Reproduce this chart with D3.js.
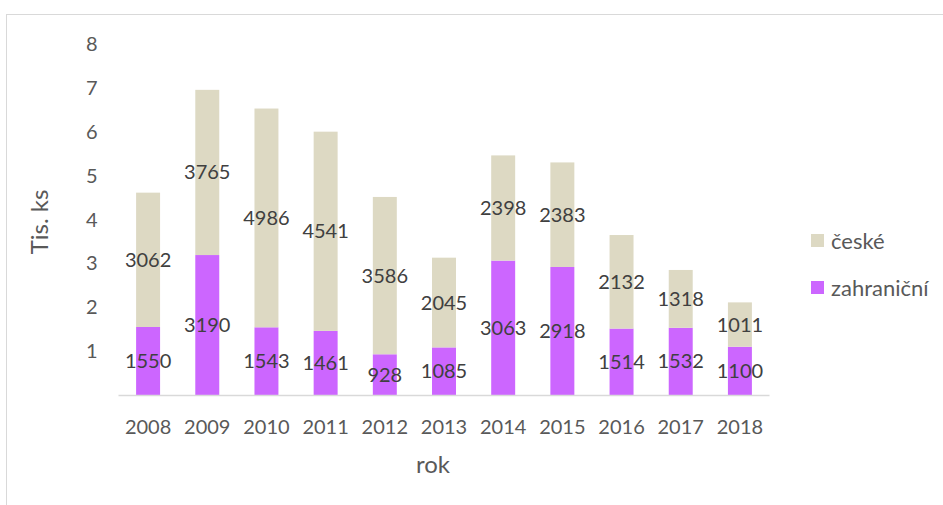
<!DOCTYPE html>
<html>
<head>
<meta charset="utf-8">
<script src="https://cdn.jsdelivr.net/npm/d3@7"></script>
<style>
body { margin: 0; background: #fff; }
svg { font-family: Lato, "Open Sans", sans-serif; }
</style>
</head>
<body>
<svg id="chart" width="943" height="505"></svg>
<script>
var years = ["2008", "2009", "2010", "2011", "2012", "2013", "2014", "2015", "2016", "2017", "2018"];
var zahranicni = [1550, 3190, 1543, 1461, 928, 1085, 3063, 2918, 1514, 1532, 1100];
var ceske = [3062, 3765, 4986, 4541, 3586, 2045, 2398, 2383, 2132, 1318, 1011];
var yTicks = [1, 2, 3, 4, 5, 6, 7, 8];

var svg = d3.select("#chart"),
    margin = { top: 44, left: 118.5 },
    width = 651,
    height = 351,
    g = svg.append("g").attr("transform", "translate(" + margin.left + "," + margin.top + ")");

// outer frame
svg.append("rect")
    .attr("x", 6.5).attr("y", 14.5)
    .attr("width", 960).attr("height", 520)
    .attr("fill", "none")
    .attr("stroke", "#d9d9d9");

var data = years.map(function (y, i) {
    return { rok: y, zahranicni: zahranicni[i] / 1000, ceske: ceske[i] / 1000 };
});

var x = d3.scaleBand().domain(years).range([0, width]).paddingInner(0.595).paddingOuter(0.2975);
var y = d3.scaleLinear().domain([0, 8]).range([height, 0]);

var stack = d3.stack().keys(["zahranicni", "ceske"])(data);
var colors = { zahranicni: "#cc66ff", ceske: "#ddd9c3" };
var raw = { zahranicni: zahranicni, ceske: ceske };

stack.forEach(function (layer) {
    g.selectAll(".bar-" + layer.key)
        .data(layer)
        .enter().append("rect")
        .attr("x", function (d) { return x(d.data.rok); })
        .attr("width", x.bandwidth())
        .attr("y", function (d) { return y(d[1]); })
        .attr("height", function (d) { return y(d[0]) - y(d[1]); })
        .attr("fill", colors[layer.key]);
});

// x axis
g.append("line")
    .attr("x1", 0).attr("x2", width)
    .attr("y1", height + 0.5).attr("y2", height + 0.5)
    .attr("stroke", "#d9d9d9").attr("stroke-width", 1.5);

g.selectAll(".xlab")
    .data(years)
    .enter().append("text")
    .attr("x", function (d) { return x(d) + x.bandwidth() / 2; })
    .attr("y", height + 39)
    .attr("text-anchor", "middle")
    .style("font-size", "20px")
    .attr("fill", "#595959")
    .text(function (d) { return d; });

// y tick labels
g.selectAll(".ylab")
    .data(yTicks)
    .enter().append("text")
    .attr("x", -21)
    .attr("y", function (d) { return y(d); })
    .attr("dy", "0.35em")
    .attr("text-anchor", "end")
    .style("font-size", "20px")
    .attr("fill", "#595959")
    .text(function (d) { return d; });

// data labels
stack.forEach(function (layer) {
    g.selectAll(".lab-" + layer.key)
        .data(layer)
        .enter().append("text")
        .attr("x", function (d) { return x(d.data.rok) + x.bandwidth() / 2; })
        .attr("y", function (d) { return y((d[0] + d[1]) / 2); })
        .attr("dy", "0.35em")
        .attr("text-anchor", "middle")
        .style("font-size", "20px")
        .attr("fill", "#404040")
        .text(function (d, i) { return raw[layer.key][i]; });
});

// axis titles
svg.append("text")
    .attr("transform", "translate(40,222) rotate(-90)")
    .attr("dy", "0.35em")
    .attr("text-anchor", "middle")
    .style("font-size", "24px")
    .attr("fill", "#595959")
    .text("Tis. ks");

svg.append("text")
    .attr("x", 433)
    .attr("y", 473)
    .attr("text-anchor", "middle")
    .style("font-size", "24px")
    .attr("fill", "#595959")
    .text("rok");

// legend
var legend = [
    { name: "české", color: colors.ceske, y: 241 },
    { name: "zahraniční", color: colors.zahranicni, y: 288 }
];
var lg = svg.selectAll(".legend").data(legend).enter().append("g");
lg.append("rect")
    .attr("x", 811).attr("y", function (d) { return d.y - 7; })
    .attr("width", 13).attr("height", 13)
    .attr("fill", function (d) { return d.color; });
lg.append("text")
    .attr("x", 831).attr("y", function (d) { return d.y; })
    .attr("dy", "0.35em")
    .style("font-size", "22px")
    .attr("fill", "#595959")
    .text(function (d) { return d.name; });
</script>
</body>
</html>
